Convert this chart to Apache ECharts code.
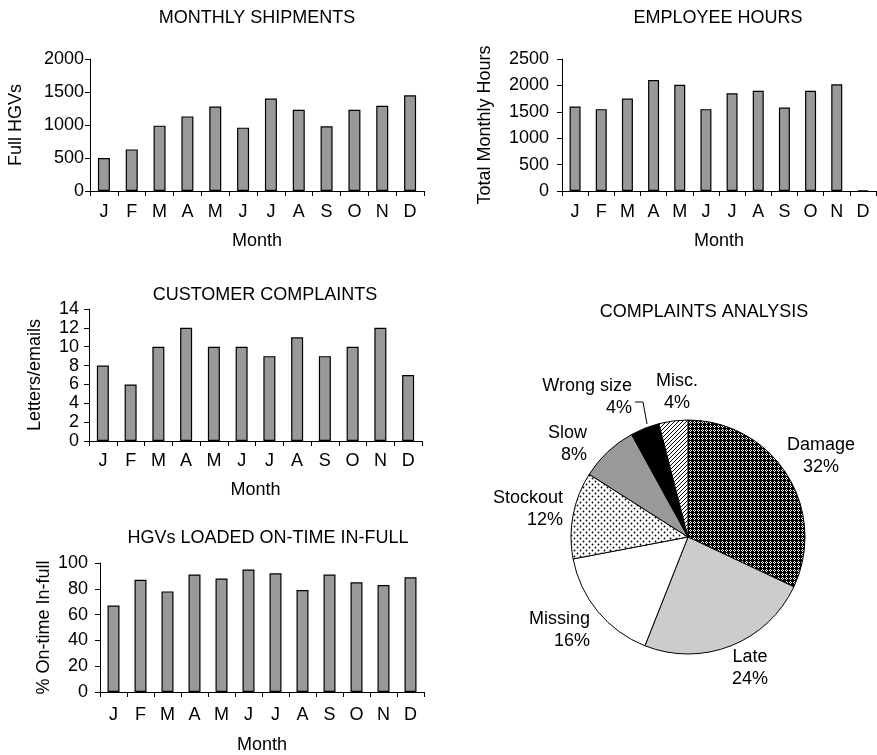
<!DOCTYPE html>
<html>
<head>
<meta charset="utf-8">
<title>Warehouse performance dashboard</title>
<script src="https://cdn.jsdelivr.net/npm/echarts@6/dist/echarts.min.js"></script>
<style>
  html, body { margin: 0; padding: 0; background: #ffffff; }
  #chart { width: 877px; height: 755px; }
</style>
</head>
<body>
<div id="chart"></div>
<script>
// ---- data ----
const months = ['J', 'F', 'M', 'A', 'M', 'J', 'J', 'A', 'S', 'O', 'N', 'D'];
const shipments = [500, 630, 990, 1130, 1280, 960, 1400, 1230, 980, 1230, 1290, 1450];
const employeeHours = [1600, 1550, 1750, 2100, 2010, 1550, 1850, 1900, 1580, 1900, 2020, 10];
const complaints = [8, 6, 10, 12, 10, 10, 9, 11, 9, 10, 12, 7];
const onTimeInFull = [67, 87, 78, 91, 88, 95, 92, 79, 91, 85, 83, 89];
const complaintCauses = ['Damage', 'Late', 'Missing', 'Stockout', 'Slow', 'Wrong size', 'Misc.'];
const complaintShares = [32, 24, 16, 12, 8, 4, 4];

// ---- fill patterns for the pie ----
function makeTile(w, h, draw) {
  const c = document.createElement('canvas');
  c.width = w; c.height = h;
  draw(c.getContext('2d'));
  return c;
}
// black ground with small white rings
const ringTile = makeTile(4, 4, ctx => {
  ctx.fillStyle = '#000'; ctx.fillRect(0, 0, 4, 4);
  ctx.fillStyle = '#fff';
  ctx.fillRect(2, 1, 1, 1); ctx.fillRect(1, 2, 1, 1);
  ctx.fillRect(3, 2, 1, 1); ctx.fillRect(2, 3, 1, 1);
});
// white ground with staggered black dots
const dotTile = makeTile(6, 6, ctx => {
  ctx.fillStyle = '#fff'; ctx.fillRect(0, 0, 6, 6);
  ctx.fillStyle = '#000';
  ctx.beginPath(); ctx.arc(1.5, 1.5, 0.9, 0, Math.PI * 2); ctx.fill();
  ctx.beginPath(); ctx.arc(4.5, 4.5, 0.9, 0, Math.PI * 2); ctx.fill();
});
// white ground with forward diagonal stripes
const stripeTile = makeTile(4, 4, ctx => {
  ctx.fillStyle = '#fff'; ctx.fillRect(0, 0, 4, 4);
  ctx.strokeStyle = '#000'; ctx.lineWidth = 1;
  ctx.beginPath();
  ctx.moveTo(0, 4); ctx.lineTo(4, 0);
  ctx.moveTo(-1, 1); ctx.lineTo(1, -1);
  ctx.moveTo(3, 5); ctx.lineTo(5, 3);
  ctx.stroke();
});
const sliceFills = [
  { image: ringTile, repeat: 'repeat' },
  '#cccccc',
  '#ffffff',
  { image: dotTile, repeat: 'repeat' },
  '#999999',
  '#000000',
  { image: stripeTile, repeat: 'repeat' }
];

// ---- shared styling ----
const FONT = 'Liberation Sans, Arial, Helvetica, sans-serif';
const FS = 18;
const txt = { color: '#000', fontFamily: FONT, fontSize: FS };
const plainNumber = v => String(v);

// panel layout: grid boxes and axis settings for the four bar panels
const panels = [
  { title: 'MONTHLY SHIPMENTS', titleX: 257, titleY: 9, grid: { left: 90, top: 59, width: 334, height: 132 },
    yName: 'Full HGVs', yGap: 65, max: 2000, interval: 500, yMargin: 6, xMargin: 12, xNameGap: 41, data: shipments, barWidth: 12 },
  { title: 'EMPLOYEE HOURS', titleX: 718, titleY: 9, grid: { left: 562, top: 59, width: 314, height: 132 },
    yName: 'Total Monthly Hours', yGap: 68, max: 2500, interval: 500, yMargin: 13, xMargin: 12, xNameGap: 41, data: employeeHours, barWidth: 11 },
  { title: 'CUSTOMER COMPLAINTS', titleX: 265, titleY: 286, grid: { left: 89, top: 309, width: 333, height: 132 },
    yName: 'Letters/emails', yGap: 45, max: 14, interval: 2, yMargin: 10, xMargin: 11, xNameGap: 40, data: complaints, barWidth: 12 },
  { title: 'HGVs LOADED ON-TIME IN-FULL', titleX: 268, titleY: 529, grid: { left: 100, top: 563, width: 324, height: 131 },
    yName: '% On-time In-full', yGap: 47, max: 100, interval: 20, yMargin: 12, xMargin: 14, xNameGap: 44, data: onTimeInFull, barWidth: 12 }
];

const titles = panels.map(p => ({
  text: p.title, left: p.titleX, top: p.titleY, textAlign: 'center', padding: 0,
  textStyle: Object.assign({ fontWeight: 'normal' }, txt)
}));
titles.push({
  text: 'COMPLAINTS ANALYSIS', left: 704, top: 303, textAlign: 'center', padding: 0,
  textStyle: Object.assign({ fontWeight: 'normal' }, txt)
});

const grids = panels.map(p => p.grid);

const xAxes = panels.map((p, i) => ({
  type: 'category', gridIndex: i, data: months,
  name: 'Month', nameLocation: 'middle', nameGap: p.xNameGap, nameTextStyle: txt,
  axisLine: { lineStyle: { color: '#000', width: 1 } },
  axisTick: { show: true, inside: false, length: 5, alignWithLabel: false, lineStyle: { color: '#000' } },
  axisLabel: Object.assign({ margin: p.xMargin, interval: 0 }, txt),
  splitLine: { show: false }
}));

const yAxes = panels.map((p, i) => ({
  type: 'value', gridIndex: i, min: 0, max: p.max, interval: p.interval,
  name: p.yName, nameLocation: 'middle', nameGap: p.yGap, nameTextStyle: txt,
  axisLine: { show: true, lineStyle: { color: '#000', width: 1 } },
  axisTick: { show: true, length: 5, lineStyle: { color: '#000' } },
  axisLabel: Object.assign({ margin: p.yMargin, formatter: plainNumber }, txt),
  splitLine: { show: false }
}));

const barSeries = panels.map((p, i) => ({
  type: 'bar', xAxisIndex: i, yAxisIndex: i, data: p.data, barWidth: p.barWidth,
  itemStyle: { color: '#999999', borderColor: '#000', borderWidth: 1.2 },
  silent: true, animation: false
}));

// where each pie label block sits: [x, y, align]
const pieLabelSpots = [
  [821, 456, 'center'],
  [750, 668, 'center'],
  [590, 630, 'right'],
  [563, 509, 'right'],
  [587, 444, 'right'],
  [632, 397, 'right'],
  [677, 392, 'center']
];

const pieSeries = {
  type: 'pie', center: [688, 537], radius: 117, startAngle: 90, clockwise: true,
  animation: false, silent: true,
  data: complaintCauses.map((name, i) => ({
    name, value: complaintShares[i],
    itemStyle: { color: sliceFills[i] }
  })),
  itemStyle: { borderColor: '#000', borderWidth: 1 },
  label: Object.assign({
    show: true, position: 'outside', formatter: '{b}\n{c}%', lineHeight: 22,
    overflow: 'none', alignTo: 'none', bleedMargin: 0
  }, txt),
  labelLine: { show: false },
  labelLayout: params => {
    const s = pieLabelSpots[params.dataIndex];
    return { x: s[0], y: s[1], align: s[2], verticalAlign: 'middle' };
  }
};

const chart = echarts.init(document.getElementById('chart'), null, { renderer: 'canvas' });
chart.setOption({
  backgroundColor: '#ffffff',
  animation: false,
  title: titles,
  grid: grids,
  xAxis: xAxes,
  yAxis: yAxes,
  series: barSeries.concat([pieSeries]),
  graphic: [{
    // leader from the "Wrong size" label to its slice
    type: 'polyline', silent: true,
    shape: { points: [[635, 402], [643, 402], [647, 424]] },
    style: { stroke: '#000', lineWidth: 1, fill: null }
  }]
});
</script>
</body>
</html>
